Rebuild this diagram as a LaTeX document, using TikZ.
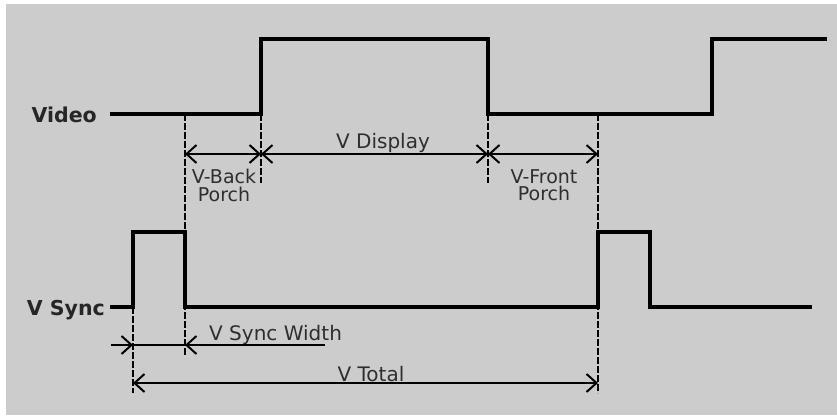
\documentclass[tikz,border=0pt]{standalone}
\usepackage{fontspec}
\setmainfont{DejaVu Sans}
\usetikzlibrary{arrows.meta}
\definecolor{bg}{HTML}{CCCCCC}
\definecolor{txt}{HTML}{2E2E2E}
\tikzset{
  signal/.style={line width=3.5pt, line join=miter, line cap=butt},
  guide/.style={line width=1.5pt, dash pattern=on 7pt off 2pt},
  dim/.style={line width=2pt},
  barb/.tip={Straight Barb[length=10pt,width=18pt,line width=2pt]},
  lab/.style={inner sep=0pt, font=\fontsize{20}{17}\selectfont, text=txt, align=center},
  lab2/.style={inner sep=0pt, font=\fontsize{19}{17.5}\selectfont, text=txt, align=center},
  sig/.style={inner sep=0pt, font=\fontsize{20.5}{24}\selectfont\bfseries, text=black!85},
}
\begin{document}
\begin{tikzpicture}[x=1pt,y=-1pt]
\useasboundingbox (0,0) rectangle (837,415);
\fill[white] (0,0) rectangle (837,415);
\fill[bg] (6,4) rectangle (837,415);

% guides
\draw[guide] (185,114) -- (185,355);
\draw[guide] (261,114) -- (261,183);
\draw[guide] (488,114) -- (488,183);
\draw[guide] (598,114) -- (598,393);
\draw[guide] (133,307) -- (133,393);

% Video waveform
\draw[signal] (110,114) -- (261,114) -- (261,39) -- (488,39) -- (488,114)
  -- (712,114) -- (712,39) -- (827,39);
% V Sync waveform
\draw[signal] (110,307) -- (133,307) -- (133,232) -- (185,232) -- (185,307)
  -- (598,307) -- (598,232) -- (650,232) -- (650,307) -- (812,307);

% dimension points
\coordinate (p1) at (185,154);
\coordinate (p2) at (261,154);
\coordinate (p3) at (488,154);
\coordinate (p4) at (598,154);
\draw[dim, {barb}-{barb}] (p1) -- (p2);
\draw[dim, {barb}-{barb}] (p2) -- (p3);
\draw[dim, {barb}-{barb}] (p3) -- (p4);

\coordinate (w0) at (111,345);
\coordinate (w1) at (133,345);
\coordinate (w2) at (185,345);
\coordinate (w3) at (325,345);
\draw[dim] (w0) -- (w3);
\draw[dim, -{barb}] (w0) -- (w1);
\draw[dim, -{barb}] (w3) -- (w2);

\coordinate (t1) at (133,383);
\coordinate (t2) at (598,383);
\draw[dim, {barb}-{barb}] (t1) -- (t2);

% labels
\node[sig, anchor=base east] (video) at (97,122) {Video};
\node[sig, anchor=base east] (vsync) at (105,315) {V Sync};
\node[lab2, anchor=north] (vbp) at (224,169) {V-Back\\Porch};
\node[lab, anchor=base] (vdisp) at (383,148) {V Display};
\node[lab2, anchor=north] (vfp) at (544,169) {V-Front\\Porch};
\node[lab, anchor=base west] (vsw) at (209,340) {V Sync Width};
\node[lab, anchor=base] (vtot) at (371,381) {V Total};
\end{tikzpicture}
\end{document}
